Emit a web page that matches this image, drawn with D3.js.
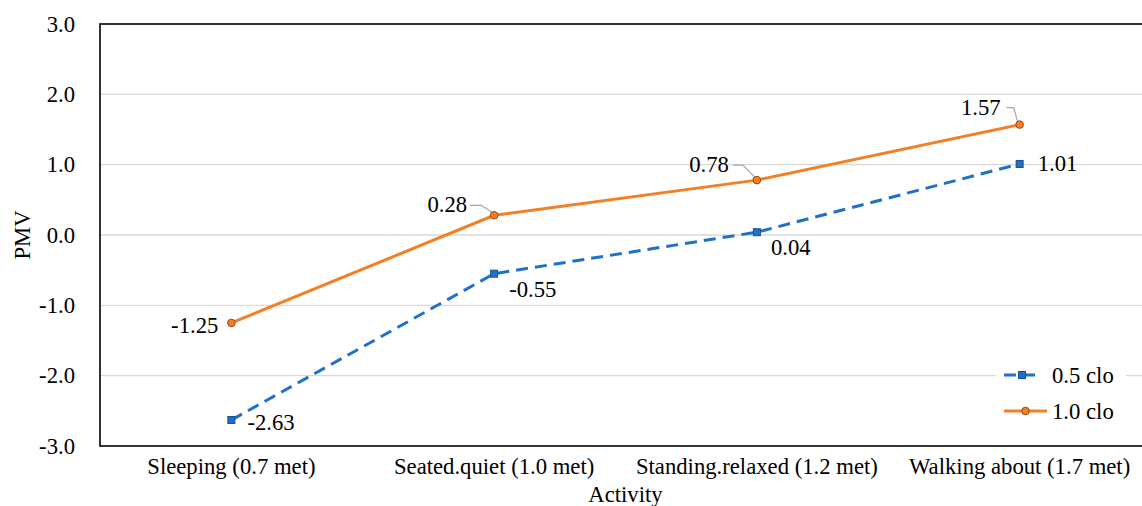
<!DOCTYPE html>
<html>
<head>
<meta charset="utf-8">
<script src="https://cdn.jsdelivr.net/npm/d3@7"></script>
<style>
  body { margin: 0; background: #fff; }
</style>
</head>
<body>
<div class="canvas"></div>
<script>
// chart data
const activities = ['Sleeping (0.7 met)', 'Seated.quiet (1.0 met)', 'Standing.relaxed (1.2 met)', 'Walking about (1.7 met)'];
const clo05 = [-2.63, -0.55, 0.04, 1.01];
const clo10 = [-1.25, 0.28, 0.78, 1.57];
const yTicks = [-3, -2, -1, 0, 1, 2, 3];
const seriesNames = ['0.5 clo', '1.0 clo'];

const font = '"Liberation Serif", Tinos, "Times New Roman", "DejaVu Serif", serif';
const fontSize = 22.7;

// svg container
const svg = d3.select('.canvas')
    .append('svg')
    .attr('width', 1142)
    .attr('height', 506)
    .style('font-family', font);

// plot area (it runs past the right edge, like the original)
const margin = { top: 24, left: 100 };
const graphWidth = 1051;
const graphHeight = 422;

const graph = svg.append('g')
    .attr('transform', `translate(${margin.left}, ${margin.top})`);

const x = d3.scaleBand()
    .domain(activities)
    .range([0, graphWidth]);

const y = d3.scaleLinear()
    .domain([-3, 3])
    .range([graphHeight, 0]);

const cx = d => x(d) + x.bandwidth() / 2;

// gridlines
graph.append('g')
    .selectAll('line')
    .data(yTicks.filter(t => t > -3 && t < 3))
    .enter()
    .append('line')
    .attr('x1', 0)
    .attr('x2', graphWidth)
    .attr('y1', d => y(d))
    .attr('y2', d => y(d))
    .attr('stroke', '#d9d9d9')
    .attr('stroke-width', 1.3);

// frame
graph.append('rect')
    .attr('width', graphWidth)
    .attr('height', graphHeight)
    .attr('fill', 'none')
    .attr('stroke', '#000')
    .attr('stroke-width', 1.6);

// axes
const yAxis = d3.axisLeft(y)
    .tickValues(yTicks)
    .tickSize(0)
    .tickPadding(25)
    .tickFormat(d => d.toFixed(1));

const xAxis = d3.axisBottom(x)
    .tickSize(0)
    .tickPadding(12);

const yAxisGroup = graph.append('g').call(yAxis);
const xAxisGroup = graph.append('g')
    .attr('transform', `translate(0, ${graphHeight})`)
    .call(xAxis);

[yAxisGroup, xAxisGroup].forEach(g => {
    g.attr('font-family', null).attr('font-size', null);
    g.select('.domain').remove();
    g.selectAll('text')
        .style('font-family', font)
        .style('font-size', fontSize + 'px')
        .attr('fill', '#000');
});

// axis titles
svg.append('text')
    .attr('transform', `translate(30, ${margin.top + y(0)}) rotate(-90)`)
    .attr('text-anchor', 'middle')
    .style('font-size', fontSize + 'px')
    .text('PMV');

svg.append('text')
    .attr('x', margin.left + graphWidth / 2)
    .attr('y', 502)
    .attr('text-anchor', 'middle')
    .style('font-size', fontSize + 'px')
    .text('Activity');

// lines
const line = d3.line()
    .x(d => cx(d.name))
    .y(d => y(d.value));

const rows05 = activities.map((a, i) => ({ name: a, value: clo05[i] }));
const rows10 = activities.map((a, i) => ({ name: a, value: clo10[i] }));

const blue = '#1f70c8';
const orange = '#f47f24';

graph.append('path')
    .datum(rows05)
    .attr('d', line)
    .attr('fill', 'none')
    .attr('stroke', blue)
    .attr('stroke-width', 3)
    .attr('stroke-dasharray', '12,7');

graph.append('path')
    .datum(rows10)
    .attr('d', line)
    .attr('fill', 'none')
    .attr('stroke', orange)
    .attr('stroke-width', 3);

// leader lines for the 1.0 clo labels
const leaders = [null, [-24, -10, -13, -10], [-24, -15, -14, -15], [-13, -17, -6, -17]];
graph.append('g')
    .selectAll('polyline')
    .data(rows10.map((d, i) => ({ d, l: leaders[i] })).filter(o => o.l))
    .enter()
    .append('polyline')
    .attr('points', o => {
        const px = cx(o.d.name), py = y(o.d.value);
        return `${px + o.l[0]},${py + o.l[1]} ${px + o.l[2]},${py + o.l[3]} ${px - 2},${py - 3}`;
    })
    .attr('fill', 'none')
    .attr('stroke', '#a6a6a6')
    .attr('stroke-width', 1.2);

// markers
graph.append('g')
    .selectAll('rect')
    .data(rows05)
    .enter()
    .append('rect')
    .attr('x', d => cx(d.name) - 3.5)
    .attr('y', d => y(d.value) - 3.5)
    .attr('width', 7)
    .attr('height', 7)
    .attr('fill', blue)
    .attr('stroke', '#1a4f8f')
    .attr('stroke-width', 1);

graph.append('g')
    .selectAll('circle')
    .data(rows10)
    .enter()
    .append('circle')
    .attr('cx', d => cx(d.name))
    .attr('cy', d => y(d.value))
    .attr('r', 3.8)
    .attr('fill', orange)
    .attr('stroke', '#9e480e')
    .attr('stroke-width', 1);

// data labels
const off05 = [[16, 2], [15, 15], [14, 15], [18, -1]];
const off10 = [[-13, 2], [-27, -11], [-28, -16], [-19, -18]];

graph.append('g')
    .selectAll('text')
    .data(rows05)
    .enter()
    .append('text')
    .attr('x', (d, i) => cx(d.name) + off05[i][0])
    .attr('y', (d, i) => y(d.value) + off05[i][1])
    .attr('dy', '0.35em')
    .style('font-size', fontSize + 'px')
    .text(d => d.value.toFixed(2));

graph.append('g')
    .selectAll('text')
    .data(rows10)
    .enter()
    .append('text')
    .attr('x', (d, i) => cx(d.name) + off10[i][0])
    .attr('y', (d, i) => y(d.value) + off10[i][1])
    .attr('dy', '0.35em')
    .attr('text-anchor', 'end')
    .style('font-size', fontSize + 'px')
    .text(d => d.value.toFixed(2));

// legend
const legend = svg.append('g')
    .attr('transform', 'translate(996, 356)');

legend.append('rect')
    .attr('width', 130)
    .attr('height', 74)
    .attr('fill', '#fff');

const legendItems = legend.selectAll('g.item')
    .data(seriesNames)
    .enter()
    .append('g')
    .attr('class', 'item')
    .attr('transform', (d, i) => `translate(8, ${19 + i * 36})`);

legendItems.append('line')
    .attr('x1', 0)
    .attr('x2', (d, i) => i === 0 ? 36 : 43)
    .attr('stroke', (d, i) => i === 0 ? blue : orange)
    .attr('stroke-width', 3)
    .attr('stroke-dasharray', (d, i) => i === 0 ? '12,7' : null);

legendItems.filter((d, i) => i === 0)
    .append('rect')
    .attr('x', 14.5).attr('y', -3.5)
    .attr('width', 7).attr('height', 7)
    .attr('fill', blue)
    .attr('stroke', '#1a4f8f');

legendItems.filter((d, i) => i === 1)
    .append('circle')
    .attr('cx', 21.5)
    .attr('r', 3.8)
    .attr('fill', orange)
    .attr('stroke', '#9e480e');

legendItems.append('text')
    .attr('x', 48)
    .attr('dy', '0.35em')
    .style('font-size', fontSize + 'px')
    .text(d => d);
</script>
</body>
</html>
